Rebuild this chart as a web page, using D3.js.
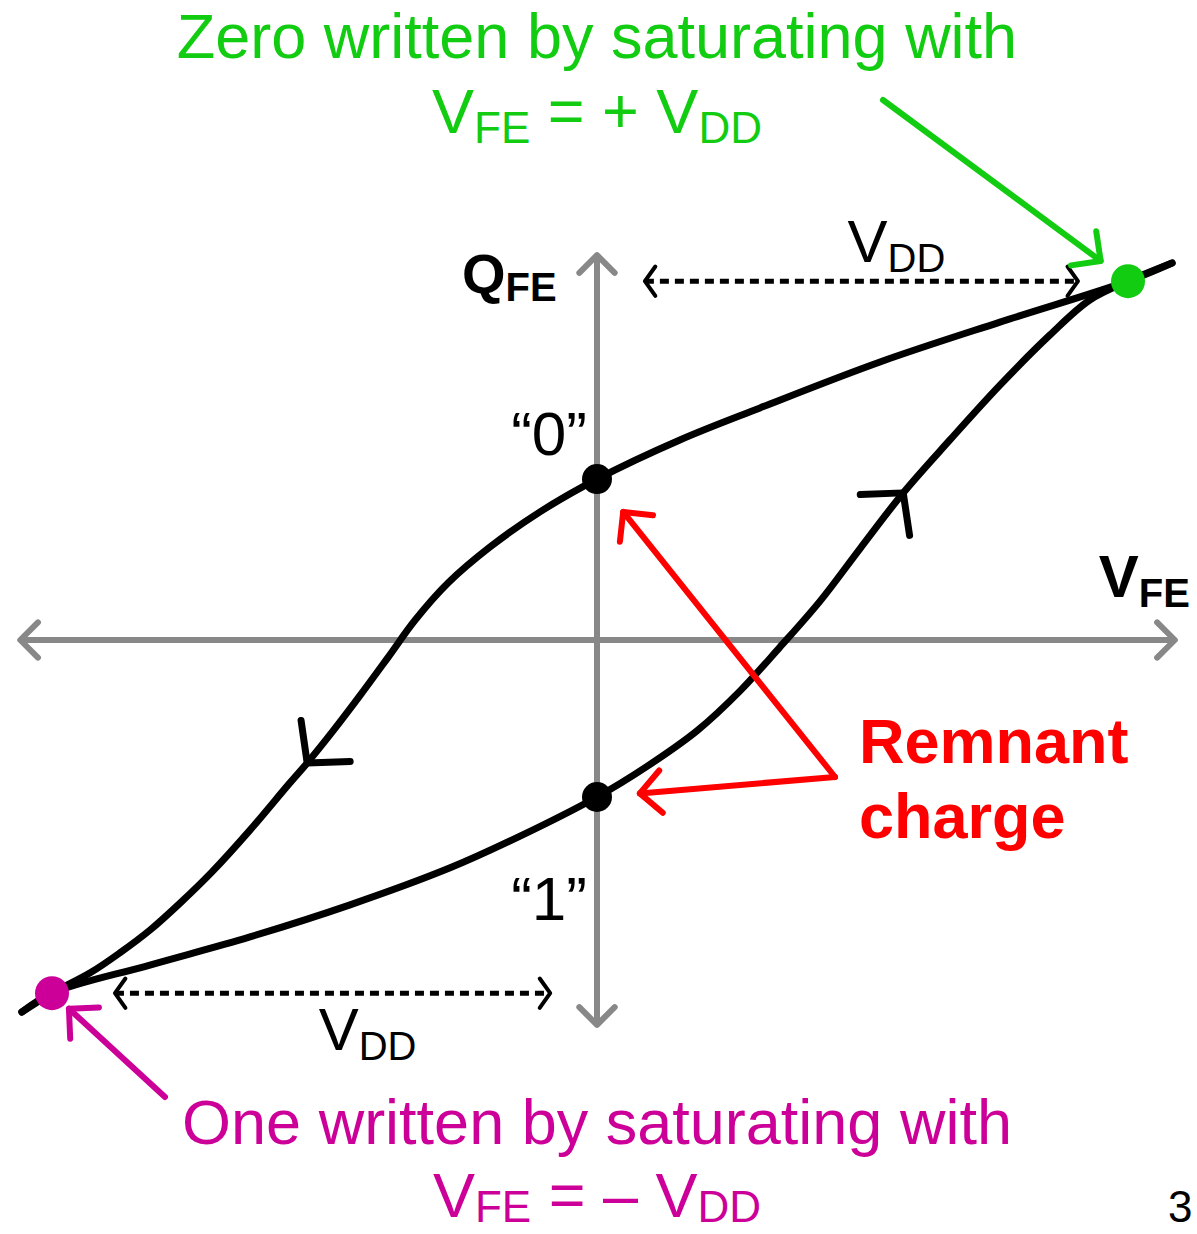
<!DOCTYPE html>
<html>
<head>
<meta charset="utf-8">
<script src="https://cdn.jsdelivr.net/npm/d3@7"></script>
<style>
  body { margin: 0; background: #fff; }
  svg { display: block; font-family: "Liberation Sans", Arial, sans-serif; }
</style>
</head>
<body>
<script>
// Ferroelectric hysteresis loop. V in units of VDD, Q normalised to saturation charge.
// upper branch: traced from +VDD down to -VDD
const upperV = [1.069, 0.987, 0.749, 0.526, 0.303, 0.154, 0, -0.106, -0.199, -0.277, -0.338, -0.388, -0.441, -0.491, -0.539, -0.574, -0.645, -0.716, -0.775, -0.831, -0.887, -0.942, -1.013, -1.069];
const upperQ = [1.059, 1.008, 0.893, 0.781, 0.652, 0.562, 0.452, 0.360, 0.261, 0.160, 0.056, -0.048, -0.157, -0.256, -0.346, -0.407, -0.534, -0.652, -0.739, -0.815, -0.879, -0.935, -0.992, -1.045];
// lower branch: traced from -VDD up to +VDD
const lowerV = [-1.069, -1.013, -0.831, -0.645, -0.459, -0.273, -0.143, 0, 0.093, 0.186, 0.266, 0.340, 0.415, 0.489, 0.569, 0.656, 0.749, 0.842, 0.916, 0.987, 1.069];
const lowerQ = [-1.045, -0.992, -0.913, -0.834, -0.744, -0.640, -0.551, -0.441, -0.355, -0.255, -0.143, -0.020, 0.110, 0.257, 0.413, 0.562, 0.716, 0.857, 0.955, 1.008, 1.059];

// remnant states
const stateNames = ["“0”", "“1”"];
const stateQ = [0.452, -0.441];
// saturation points (+VDD, -VDD)
const satV = [0.987, -1.013];
const satQ = [1.008, -0.992];
// VDD spans drawn as dashed double arrows
const spanTop = [0.089, 0.894];
const spanBottom = [-0.896, -0.087];
// direction markers on each branch
const markUpper = [-0.539, -0.346];
const markLower = [0.569, 0.413];
// axis extents
const axisV = [-1.072, 1.074];
const axisQ = [-1.081, 1.081];

const width = 1197, height = 1234;
const GREEN = "#11cc11", MAGENTA = "#cc0099", RED = "#ff0000", GRAY = "#888888";

const x = d3.scaleLinear().domain([-1, 1]).range([59, 1135]);
const y = d3.scaleLinear().domain([-1, 1]).range([996, 284]);

const svg = d3.select("body").append("svg")
    .attr("width", width)
    .attr("height", height)
    .attr("viewBox", [0, 0, width, height]);

svg.append("rect").attr("width", width).attr("height", height).attr("fill", "#fff");

// open chevron head, ang = direction of travel at the tip
function head(g, tx, ty, ang, len, spread, color, w) {
  const a1 = ang + Math.PI - spread, a2 = ang + Math.PI + spread;
  g.append("path")
    .attr("d", `M${tx + len * Math.cos(a1)},${ty + len * Math.sin(a1)}L${tx},${ty}L${tx + len * Math.cos(a2)},${ty + len * Math.sin(a2)}`)
    .attr("fill", "none")
    .attr("stroke", color)
    .attr("stroke-width", w)
    .attr("stroke-linecap", "round")
    .attr("stroke-linejoin", "round");
}

// ---- axes
const axes = svg.append("g");
axes.append("line")
    .attr("x1", x(axisV[0])).attr("x2", x(axisV[1]))
    .attr("y1", y(0)).attr("y2", y(0))
    .attr("stroke", GRAY).attr("stroke-width", 6);
axes.append("line")
    .attr("x1", x(0)).attr("x2", x(0))
    .attr("y1", y(axisQ[0])).attr("y2", y(axisQ[1]))
    .attr("stroke", GRAY).attr("stroke-width", 6);
head(axes, x(axisV[1]), y(0), 0, 25, Math.PI / 4, GRAY, 6);
head(axes, x(axisV[0]), y(0), Math.PI, 25, Math.PI / 4, GRAY, 6);
head(axes, x(0), y(axisQ[1]), -Math.PI / 2, 25, Math.PI / 4, GRAY, 6);
head(axes, x(0), y(axisQ[0]), Math.PI / 2, 25, Math.PI / 4, GRAY, 6);

axes.append("text")
    .attr("x", x(0) - 135).attr("y", y(axisQ[1]) + 38)
    .attr("font-weight", "bold").attr("font-size", 56)
    .call(t => t.append("tspan").text("Q"))
    .call(t => t.append("tspan").attr("font-size", 40).attr("dy", 8).text("FE"));
axes.append("text")
    .attr("x", x(axisV[1]) - 76).attr("y", y(0) - 43)
    .attr("font-weight", "bold").attr("font-size", 60)
    .call(t => t.append("tspan").text("V"))
    .call(t => t.append("tspan").attr("font-size", 40).attr("dy", 10).text("FE"));

// ---- VDD spans
const spans = svg.append("g");
[[spanTop, satQ[0], -19], [spanBottom, satQ[1], 57]].forEach(([s, q, ty]) => {
  spans.append("line")
      .attr("x1", x(s[0])).attr("x2", x(s[1]))
      .attr("y1", y(q)).attr("y2", y(q))
      .attr("stroke", "#000").attr("stroke-width", 5)
      .attr("stroke-dasharray", "9,6");
  head(spans, x(s[0]), y(q), Math.PI, 18, 0.95, "#000", 4);
  head(spans, x(s[1]), y(q), 0, 18, 0.95, "#000", 4);
  spans.append("text")
      .attr("x", (x(s[0]) + x(s[1])) / 2 + 35).attr("y", y(q) + ty)
      .attr("text-anchor", "middle").attr("font-size", 60)
      .call(t => t.append("tspan").text("V"))
      .call(t => t.append("tspan").attr("font-size", 40).attr("dy", 10).text("DD"));
});

// ---- loop
const line = d3.line()
    .x(d => x(d[0]))
    .y(d => y(d[1]))
    .curve(d3.curveCatmullRom.alpha(0.5));

const loop = svg.append("g");
const branches = [
  { pts: d3.zip(upperV, upperQ), mark: markUpper },
  { pts: d3.zip(lowerV, lowerQ), mark: markLower }
];
branches.forEach(b => {
  const p = loop.append("path")
      .attr("d", line(b.pts))
      .attr("fill", "none")
      .attr("stroke", "#000")
      .attr("stroke-width", 7)
      .attr("stroke-linecap", "round");
  // place a direction chevron at the path point nearest the marker
  const node = p.node(), L = node.getTotalLength();
  const mx = x(b.mark[0]), my = y(b.mark[1]);
  let best = 0, bd = Infinity;
  for (let l = 0; l <= L; l += 1) {
    const pt = node.getPointAtLength(l);
    const dd = (pt.x - mx) ** 2 + (pt.y - my) ** 2;
    if (dd < bd) { bd = dd; best = l; }
  }
  const p0 = node.getPointAtLength(best - 6), p1 = node.getPointAtLength(best + 6);
  const tip = node.getPointAtLength(best);
  head(loop, tip.x, tip.y, Math.atan2(p1.y - p0.y, p1.x - p0.x), 43, 0.84, "#000", 7);
});

// remnant state dots and labels
stateQ.forEach((q, i) => {
  loop.append("circle").attr("cx", x(0)).attr("cy", y(q)).attr("r", 15).attr("fill", "#000");
  loop.append("text")
      .attr("x", x(0) - 10).attr("y", y(q) + (i === 0 ? -24 : 123))
      .attr("text-anchor", "end").attr("font-size", 62)
      .text(stateNames[i]);
});

// saturation dots
const satColors = [GREEN, MAGENTA];
satV.forEach((v, i) => {
  loop.append("circle").attr("cx", x(v)).attr("cy", y(satQ[i])).attr("r", 17).attr("fill", satColors[i]);
});

// ---- annotations
const notes = svg.append("g");
function pointer(fromX, fromY, toX, toY, gap, color) {
  const ang = Math.atan2(toY - fromY, toX - fromX);
  const tx = toX - gap * Math.cos(ang), ty = toY - gap * Math.sin(ang);
  notes.append("line")
      .attr("x1", fromX).attr("y1", fromY).attr("x2", tx).attr("y2", ty)
      .attr("stroke", color).attr("stroke-width", 6).attr("stroke-linecap", "round");
  head(notes, tx, ty, ang, 30, Math.PI / 4, color, 6);
}
pointer(883, 100, x(satV[0]), y(satQ[0]), 34, GREEN);
pointer(165, 1097, x(satV[1]), y(satQ[1]), 23, MAGENTA);
pointer(835, 777, x(0), y(stateQ[0]), 42, RED);
pointer(835, 777, x(0), y(stateQ[1]), 43, RED);

function eqn(g, cx, by, sign, color, sub) {
  g.append("text")
      .attr("x", cx).attr("y", by)
      .attr("text-anchor", "middle").attr("font-size", 63).attr("fill", color)
      .call(t => t.append("tspan").text("V"))
      .call(t => t.append("tspan").attr("font-size", 44).attr("dy", sub).text("FE"))
      .call(t => t.append("tspan").attr("dy", -sub).text(` = ${sign} V`))
      .call(t => t.append("tspan").attr("font-size", 44).attr("dy", sub).text("DD"));
}

notes.append("text")
    .attr("x", 597).attr("y", 58)
    .attr("text-anchor", "middle").attr("font-size", 63).attr("fill", GREEN)
    .text("Zero written by saturating with");
eqn(notes, 597, 133, "+", GREEN, 10);

notes.append("text")
    .attr("x", 597).attr("y", 1144)
    .attr("text-anchor", "middle").attr("font-size", 63).attr("fill", MAGENTA)
    .text("One written by saturating with");
eqn(notes, 597, 1217, "–", MAGENTA, 5);

notes.append("text")
    .attr("x", 859).attr("y", 763)
    .attr("font-size", 63).attr("font-weight", "bold").attr("fill", RED)
    .text("Remnant");
notes.append("text")
    .attr("x", 859).attr("y", 838)
    .attr("font-size", 63).attr("font-weight", "bold").attr("fill", RED)
    .text("charge");

// slide number
svg.append("text")
    .attr("x", 1168).attr("y", 1222)
    .attr("font-size", 44).attr("fill", "#000")
    .text("3");
</script>
</body>
</html>
